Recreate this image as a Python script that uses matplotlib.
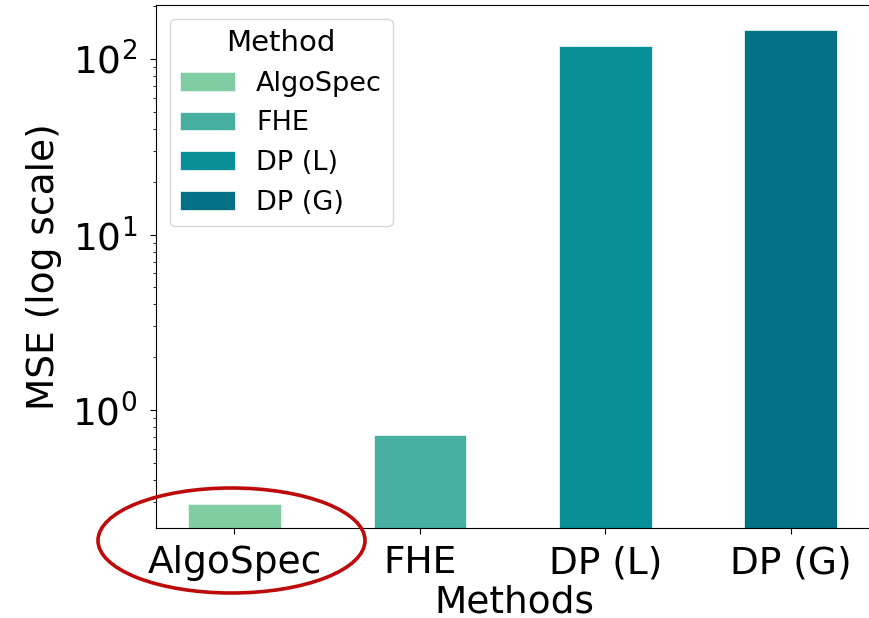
import matplotlib.pyplot as plt
from matplotlib.patches import Ellipse

# Datos
metodos = ['AlgoSpec', 'FHE', 'DP (L)', 'DP (G)']
mse = [0.292, 0.72, 118.5, 146.0]
colores = ['#80CDA3', '#47AFA0', '#098F97', '#037085']

fig = plt.figure(figsize=(8.69, 6.18), dpi=100)
ax = fig.add_axes([0.1795, 0.1456, 0.835, 0.8463])

# Barras en escala logaritmica
for i, (m, v) in enumerate(zip(metodos, mse)):
    ax.bar(i, v, width=0.5, color=colores[i], edgecolor='#e8f4f2', linewidth=0.6, label=m)

ax.set_yscale('log')
ax.set_ylim(0.213, 203)
ax.set_xlim(-0.423, 3.49)
ax.set_xticks(range(len(metodos)))
ax.set_xticklabels(metodos)
ax.tick_params(axis='both', labelsize=27)
ax.tick_params(axis='both', which='major', length=4.5)
ax.tick_params(axis='y', which='major', pad=9)
ax.tick_params(axis='x', which='major', pad=8)
ax.set_xlabel('Methods', fontsize=27, labelpad=0)
ax.xaxis.set_label_coords(0.494, -0.108)
ax.set_ylabel('MSE (log scale)', fontsize=27, labelpad=7)

ax.legend(title='Method', fontsize=19.5, title_fontsize=21, loc='upper left')

# Elipse roja alrededor de la etiqueta AlgoSpec
elipse = Ellipse((231.5 / 869, 1 - 540.5 / 618), 267 / 869, 105 / 618,
                 transform=fig.transFigure, fill=False, edgecolor='#BE0A0A',
                 linewidth=2.6, clip_on=False)
fig.patches.append(elipse)

fig.savefig('out.png', dpi=100)
